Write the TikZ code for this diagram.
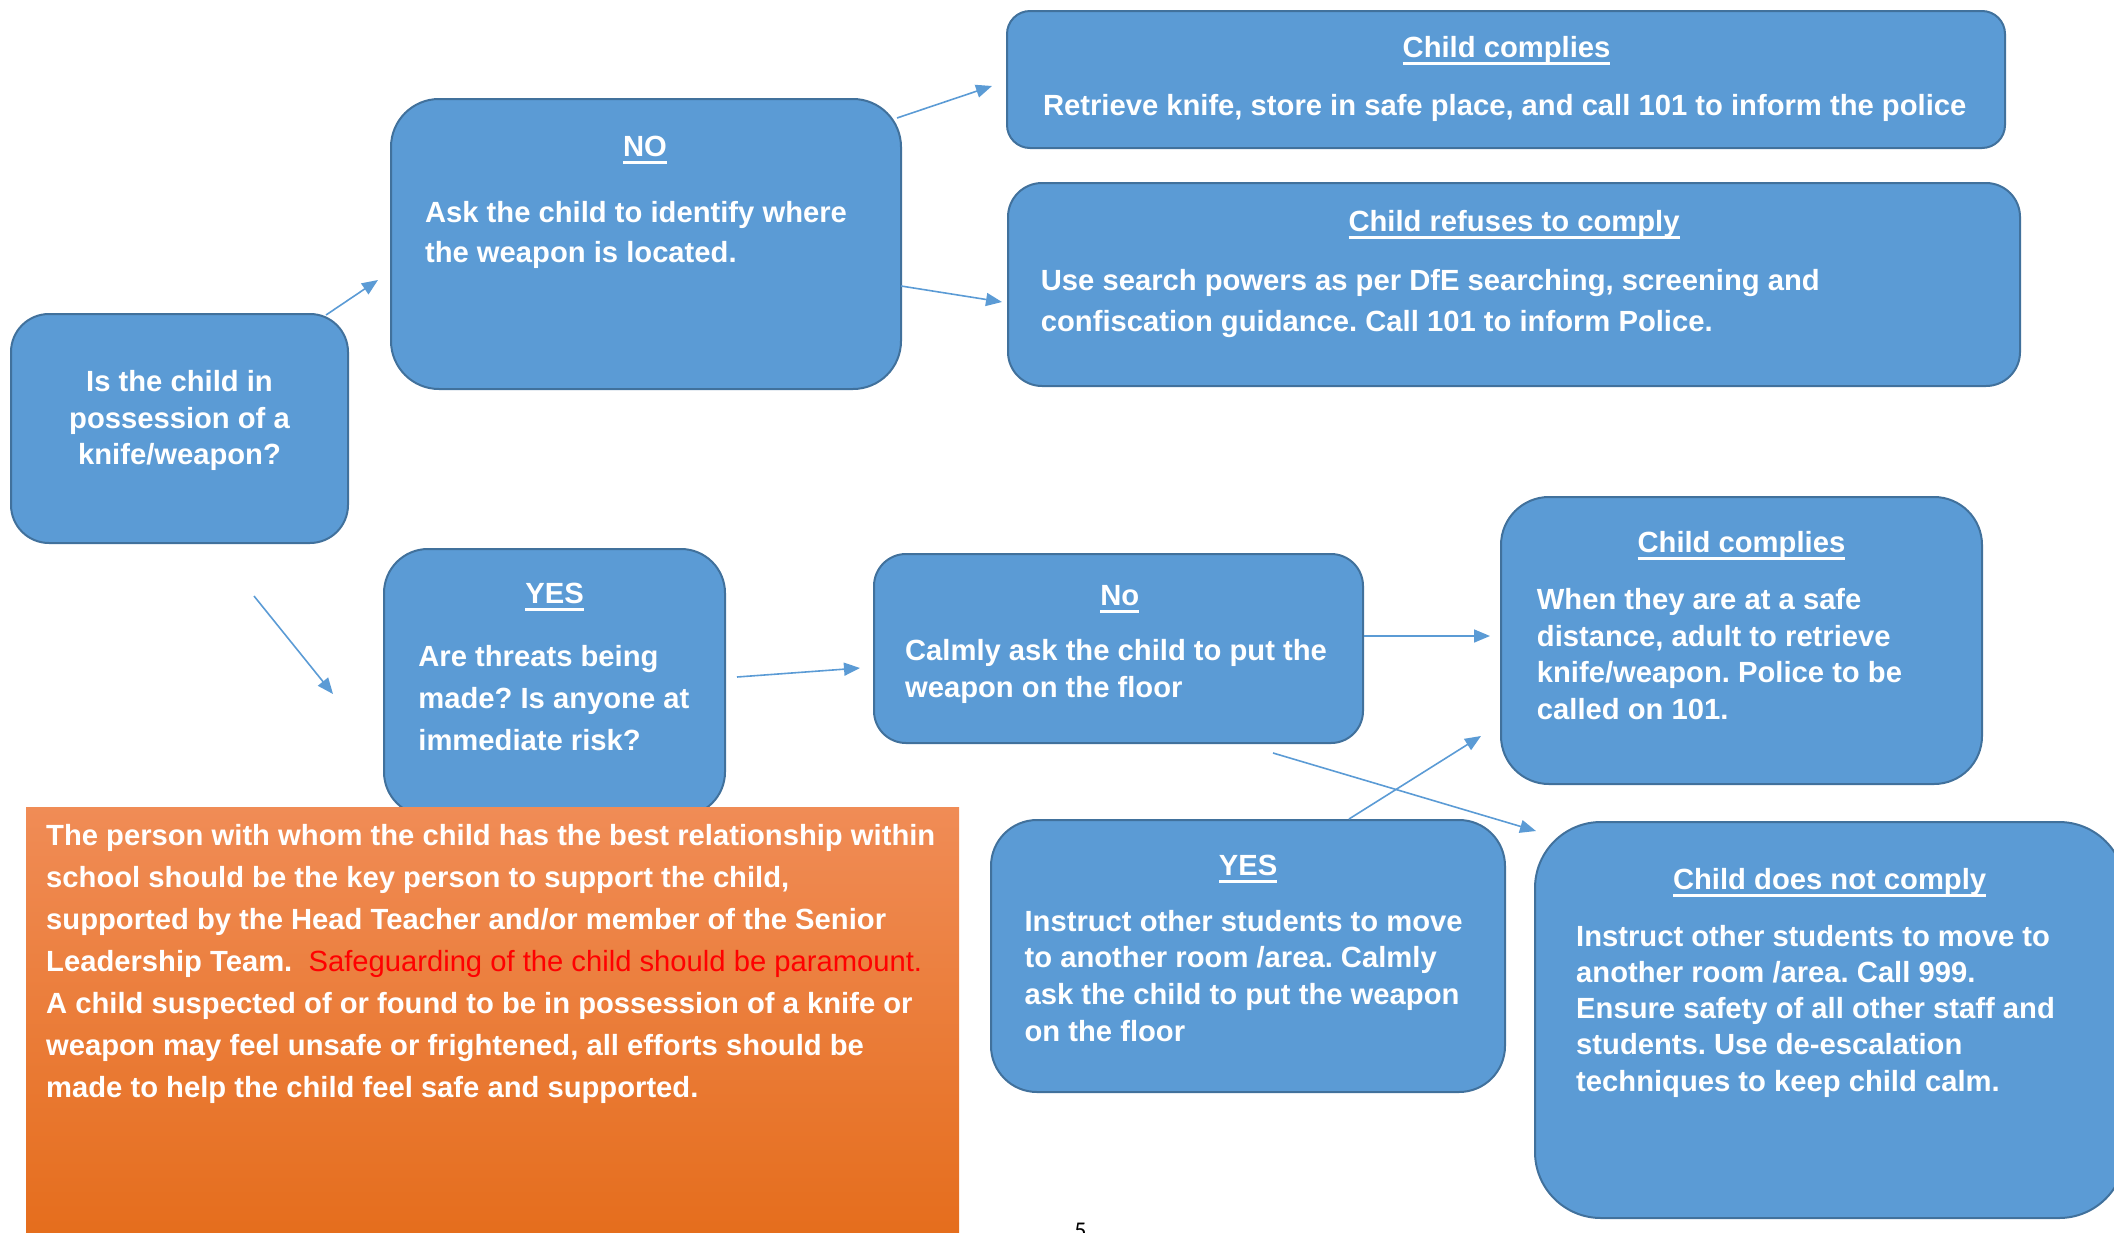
\documentclass[tikz,border=0pt]{standalone}
\usepackage{fontspec}
\setmainfont{Liberation Sans}
\newfontfamily\pagefont{Carlito}
\usetikzlibrary{arrows.meta}
\usetikzlibrary{positioning}
\definecolor{mblue}{RGB}{91,155,213}
\definecolor{mline}{RGB}{65,113,156}
\definecolor{otop}{RGB}{240,140,86}
\definecolor{omid}{RGB}{243,124,46}
\definecolor{obot}{RGB}{229,109,28}
\frenchspacing
\newcommand{\hdr}[1]{\setbox0\hbox{#1}\rlap{\rule[-3.8pt]{\wd0}{1.5pt}}\box0}
\tikzset{box/.style = {draw=mline, line width=1pt, fill=mblue, inner sep=0pt},
         head/.style = {text=white, font=\fontsize{14.6}{17}\selectfont\bfseries,
                        anchor=base, inner sep=0pt},
         body/.style = {text=white, font=\fontsize{14.6}{#1}\selectfont\bfseries\frenchspacing,
                        align=left, anchor=base west, inner sep=0pt},
         body/.default = 18.3,
         link/.style = {mblue, line width=0.8pt, -{Triangle[length=8pt, width=6.5pt]}}}

\begin{document}
\begin{tikzpicture}[x=0.5pt, y=-0.5pt]
    \useasboundingbox (0,0) rectangle (2114,1232);

    % boxes
    \node [box, rounded corners=19pt, minimum width=168.5pt, minimum height=114.5pt] (q) at (179.5,428.5) {};
    \node [box, rounded corners=24pt, minimum width=255pt, minimum height=145pt] (no) at (646,244) {};
    \node [box, rounded corners=11.5pt, minimum width=499pt, minimum height=68.5pt] (ccTop) at (1506,79.5) {};
    \node [box, rounded corners=17pt, minimum width=506pt, minimum height=101.5pt] (refuse) at (1514,284.5) {};
    \node [box, rounded corners=22pt, minimum width=170.5pt, minimum height=133.5pt] (yes) at (554.5,682.5) {};
    \node [box, rounded corners=16pt, minimum width=244.5pt, minimum height=94.5pt] (noCalm) at (1118.5,648.5) {};
    \node [box, rounded corners=24pt, minimum width=240.5pt, minimum height=143.5pt] (ccMid) at (1741.5,640.5) {};
    \node [box, rounded corners=23pt, minimum width=257pt, minimum height=136pt] (yesInst) at (1248,956) {};
    \node [box, rounded corners=33pt, minimum width=295pt, minimum height=198pt] (dnc) at (1830,1020) {};
    \node [top color=otop, middle color=omid, bottom color=obot, inner sep=0pt,
           minimum width=466.5pt, minimum height=216.5pt] (note) at (492.5,1023.5) {};

    % texts (base = last line)
    \node [body=18.25, align=center, anchor=base] (qT) at (179.5,464.8) {Is the child in\\possession of a\\knife/weapon?};
    \node [head] (noH) at (645,156.4) {\hdr{NO}};
    \node [body=20.25] (noT) at (424.7,262.5) {Ask the child to identify where\\the weapon is located.};
    \node [head] (ccTopH) at (1506.5,57) {\hdr{Child complies}};
    \node [body] (ccTopT) at (1042.6,115.9) {Retrieve knife, store in safe place, and call 101 to inform the police};
    \node [head] (refuseH) at (1514,231) {\hdr{Child refuses to comply}};
    \node [body=20.5] (refuseT) at (1040.5,331) {Use search powers as per DfE searching, screening and\\confiscation guidance. Call 101 to inform Police.};
    \node [head] (yesH) at (554.6,603.5) {\hdr{YES}};
    \node [body=21] (yesT) at (418,750.7) {Are threats being\\made? Is anyone at\\immediate risk?};
    \node [head] (noCalmH) at (1119.7,605.6) {\hdr{No}};
    \node [body=18.2] (noCalmT) at (904.7,697) {Calmly ask the child to put the\\weapon on the floor};
    \node [head] (ccMidH) at (1741.4,552.2) {\hdr{Child complies}};
    \node [body] (ccMidT) at (1536.5,719.3) {When they are at a safe\\distance, adult to retrieve\\knife/weapon. Police to be\\called on 101.};
    \node [head] (yesInstH) at (1248,875) {\hdr{YES}};
    \node [body] (yesInstT) at (1024.2,1041) {Instruct other students to move\\to another room /area. Calmly\\ask the child to put the weapon\\on the floor};
    \node [head] (dncH) at (1829.6,889) {\hdr{Child does not comply}};
    \node [body=18.1] (dncT) at (1575.8,1091) {Instruct other students to move to\\another room /area. Call 999.\\Ensure safety of all other staff and\\students. Use de-escalation\\techniques to keep child calm.};
    \node [body=21] (noteT) at (45.8,1097.6) {The person with whom the child has the best relationship within\\school should be the key person to support the child,\\supported by the Head Teacher and/or member of the Senior\\Leadership Team.\ \ {\mdseries\color{red}Safeguarding of the child should be paramount.}\\A child suspected of or found to be in possession of a knife or\\weapon may feel unsafe or frightened, all efforts should be\\made to help the child feel safe and supported.};
    \node [font=\pagefont\fontsize{12}{14}\selectfont, anchor=north, inner sep=0pt] (pg) at (1080.5,1222.5) {5};

    % arrows
    \coordinate (aS) at (326,315);  \coordinate (aE) at (378,280);
    \coordinate (bS) at (254,596);  \coordinate (bE) at (333,694);
    \coordinate (cS) at (897,118);  \coordinate (cE) at (992,86);
    \coordinate (dS) at (901,286);  \coordinate (dE) at (1002,302);
    \coordinate (eS) at (737,677);  \coordinate (eE) at (860,668);
    \coordinate (fE) at (1490,636);
    \coordinate (gS) at (1273,753); \coordinate (gE) at (1536,831);
    \coordinate (hE) at (1481,736);
    \draw [link] (aS) -- (aE);
    \draw [link] (bS) -- (bE);
    \draw [link] (cS) -- (cE);
    \draw [link] (dS) -- (dE);
    \draw [link] (eS) -- (eE);
    \draw [link] ([yshift=6.25pt]noCalm.east) -- (fE);
    \draw [link] (gS) -- (gE);
    \draw [link] ([xshift=50.5pt]yesInst.north) -- (hE);
\end{tikzpicture}
\end{document}
